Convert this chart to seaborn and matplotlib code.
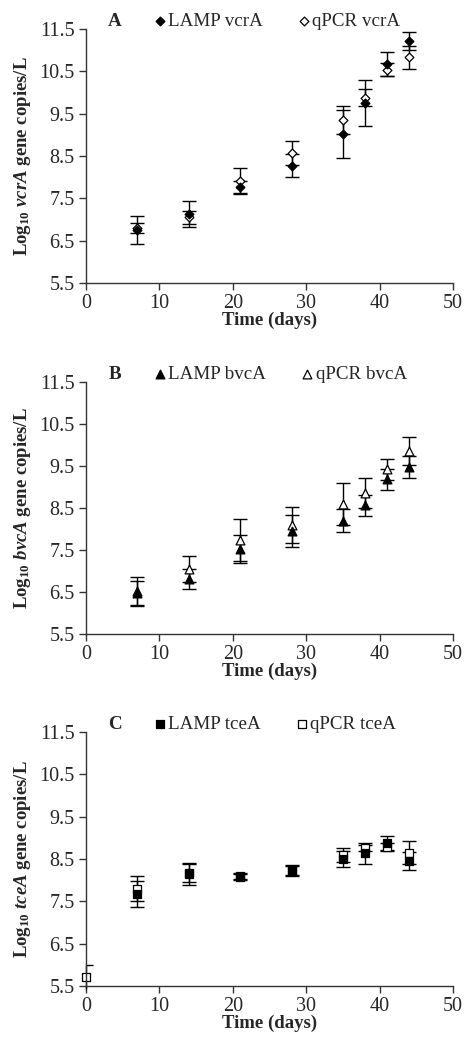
import numpy as np
import pandas as pd
import matplotlib
matplotlib.use("Agg")
import matplotlib.pyplot as plt
import seaborn as sns

# Jours de prélèvement
days = [7, 14, 21, 28, 35, 38, 41, 44]
days_c_qpcr = [0, 7, 14, 21, 28, 35, 38, 41, 44]

# Panneau A : vcrA
lamp_vcra = [6.75, 7.13, 7.76, 8.27, 9.02, 9.75, 10.67, 11.22]
lamp_vcra_err = [0.32, 0.30, 0.15, 0.27, 0.57, 0.54, 0.28, 0.22]
qpcr_vcra = [6.80, 7.05, 7.92, 8.57, 9.35, 9.87, 10.54, 10.83]
qpcr_vcra_err = [0.12, 0.15, 0.30, 0.29, 0.32, 0.20, 0.15, 0.27]

# Panneau B : bvcA
lamp_bvca = [6.47, 6.80, 7.52, 7.96, 8.20, 8.56, 9.18, 9.48]
lamp_bvca_err = [0.30, 0.24, 0.33, 0.38, 0.28, 0.25, 0.25, 0.26]
qpcr_bvca = [6.52, 7.05, 7.74, 8.10, 8.59, 8.86, 9.42, 9.86]
qpcr_bvca_err = [0.33, 0.30, 0.50, 0.43, 0.50, 0.35, 0.25, 0.34]

# Panneau C : tceA
lamp_tcea = [7.67, 8.14, 8.07, 8.21, 8.50, 8.63, 8.87, 8.45]
lamp_tcea_err = [0.30, 0.25, 0.07, 0.12, 0.20, 0.25, 0.18, 0.22]
qpcr_tcea = [5.72, 7.80, 8.18, 8.10, 8.24, 8.59, 8.76, 8.79, 8.65]
qpcr_tcea_err = [0.28, 0.29, 0.23, 0.07, 0.12, 0.16, 0.08, 0.08, 0.27]

panels = [
    ("A", "vcrA", "D", 20, days, lamp_vcra, lamp_vcra_err, days, qpcr_vcra, qpcr_vcra_err),
    ("B", "bvcA", "^", 40, days, lamp_bvca, lamp_bvca_err, days, qpcr_bvca, qpcr_bvca_err),
    ("C", "tceA", "s", 36, days, lamp_tcea, lamp_tcea_err, days_c_qpcr, qpcr_tcea, qpcr_tcea_err),
]

sns.set_style("ticks")
plt.rcParams['font.family'] = ['Liberation Serif', 'DejaVu Serif']
plt.rcParams['mathtext.fontset'] = 'custom'
plt.rcParams['mathtext.rm'] = 'Liberation Serif:bold'
plt.rcParams['mathtext.it'] = 'Liberation Serif:bold:italic'
plt.rcParams['mathtext.bf'] = 'Liberation Serif:bold'

fig = plt.figure(figsize=(4.66, 10.38), dpi=100)

# positions des axes (fraction de la figure)
positions = [
    [0.1845, 0.7274, 0.7876, 0.2447],
    [0.1845, 0.3892, 0.7876, 0.2428],
    [0.1845, 0.0501, 0.7876, 0.2447],
]

axis_col = "#333333"

for pos, (letter, gene, mk, size, xl, yl, el, xq, yq, eq) in zip(positions, panels):
    ax = fig.add_axes(pos)

    df_lamp = pd.DataFrame({"day": xl, "val": yl, "err": el})
    df_qpcr = pd.DataFrame({"day": xq, "val": yq, "err": eq})

    # barres d'erreur
    ax.errorbar(df_lamp.day, df_lamp.val, yerr=df_lamp.err, fmt="none",
                ecolor="black", elinewidth=1.0, capsize=4.8, capthick=1.0, zorder=2)
    ax.errorbar(df_qpcr.day, df_qpcr.val, yerr=df_qpcr.err, fmt="none",
                ecolor="black", elinewidth=1.0, capsize=4.8, capthick=1.0, zorder=2)

    # points
    sns.scatterplot(data=df_qpcr, x="day", y="val", ax=ax, marker=mk, s=size,
                    color="white", edgecolor="black", linewidth=0.9,
                    label=f"qPCR {gene}", zorder=3)
    sns.scatterplot(data=df_lamp, x="day", y="val", ax=ax, marker=mk, s=size,
                    color="black", edgecolor="black", linewidth=0.9,
                    label=f"LAMP {gene}", zorder=4)

    ax.set_xlim(0, 50)
    ax.set_ylim(5.5, 11.5)
    ax.set_xticks(np.arange(0, 51, 10))
    ax.set_yticks(np.arange(5.5, 11.6, 1.0))
    ax.set_yticklabels([f"{v:.1f}" for v in np.arange(5.5, 11.6, 1.0)])
    ax.tick_params(axis="both", labelsize=14.5, length=5, width=1.0,
                   color=axis_col, direction="out", pad=3)
    for side in ["top", "right"]:
        ax.spines[side].set_visible(False)
    for side in ["left", "bottom"]:
        ax.spines[side].set_color(axis_col)
        ax.spines[side].set_linewidth(1.0)
    ax.spines["left"].set_zorder(5)
    ax.spines["bottom"].set_zorder(5)

    ax.set_xlabel("Time (days)", fontsize=13.5, fontweight="bold", labelpad=-1)
    ax.set_ylabel(r"Log$_{10}$ $\mathit{" + gene + r"}$ gene copies/L",
                  fontsize=13.5, fontweight="bold", labelpad=5)

    # légende
    handles, labels = ax.get_legend_handles_labels()
    order = [labels.index(f"LAMP {gene}"), labels.index(f"qPCR {gene}")]
    ax.legend([handles[i] for i in order], [labels[i] for i in order],
              loc="center left", bbox_to_anchor=(0.185, 1.03), ncol=2,
              frameon=False, fontsize=13.7, handlelength=0.6, handletextpad=0.15,
              columnspacing=1.85, borderaxespad=0, borderpad=0)
    ax.text(0.079, 1.03, letter, transform=ax.transAxes, fontsize=13.7,
            fontweight="bold", ha="center", va="center")

    for coll in ax.collections:
        coll.set_clip_on(False)

fig.savefig("out.png", dpi=100)
